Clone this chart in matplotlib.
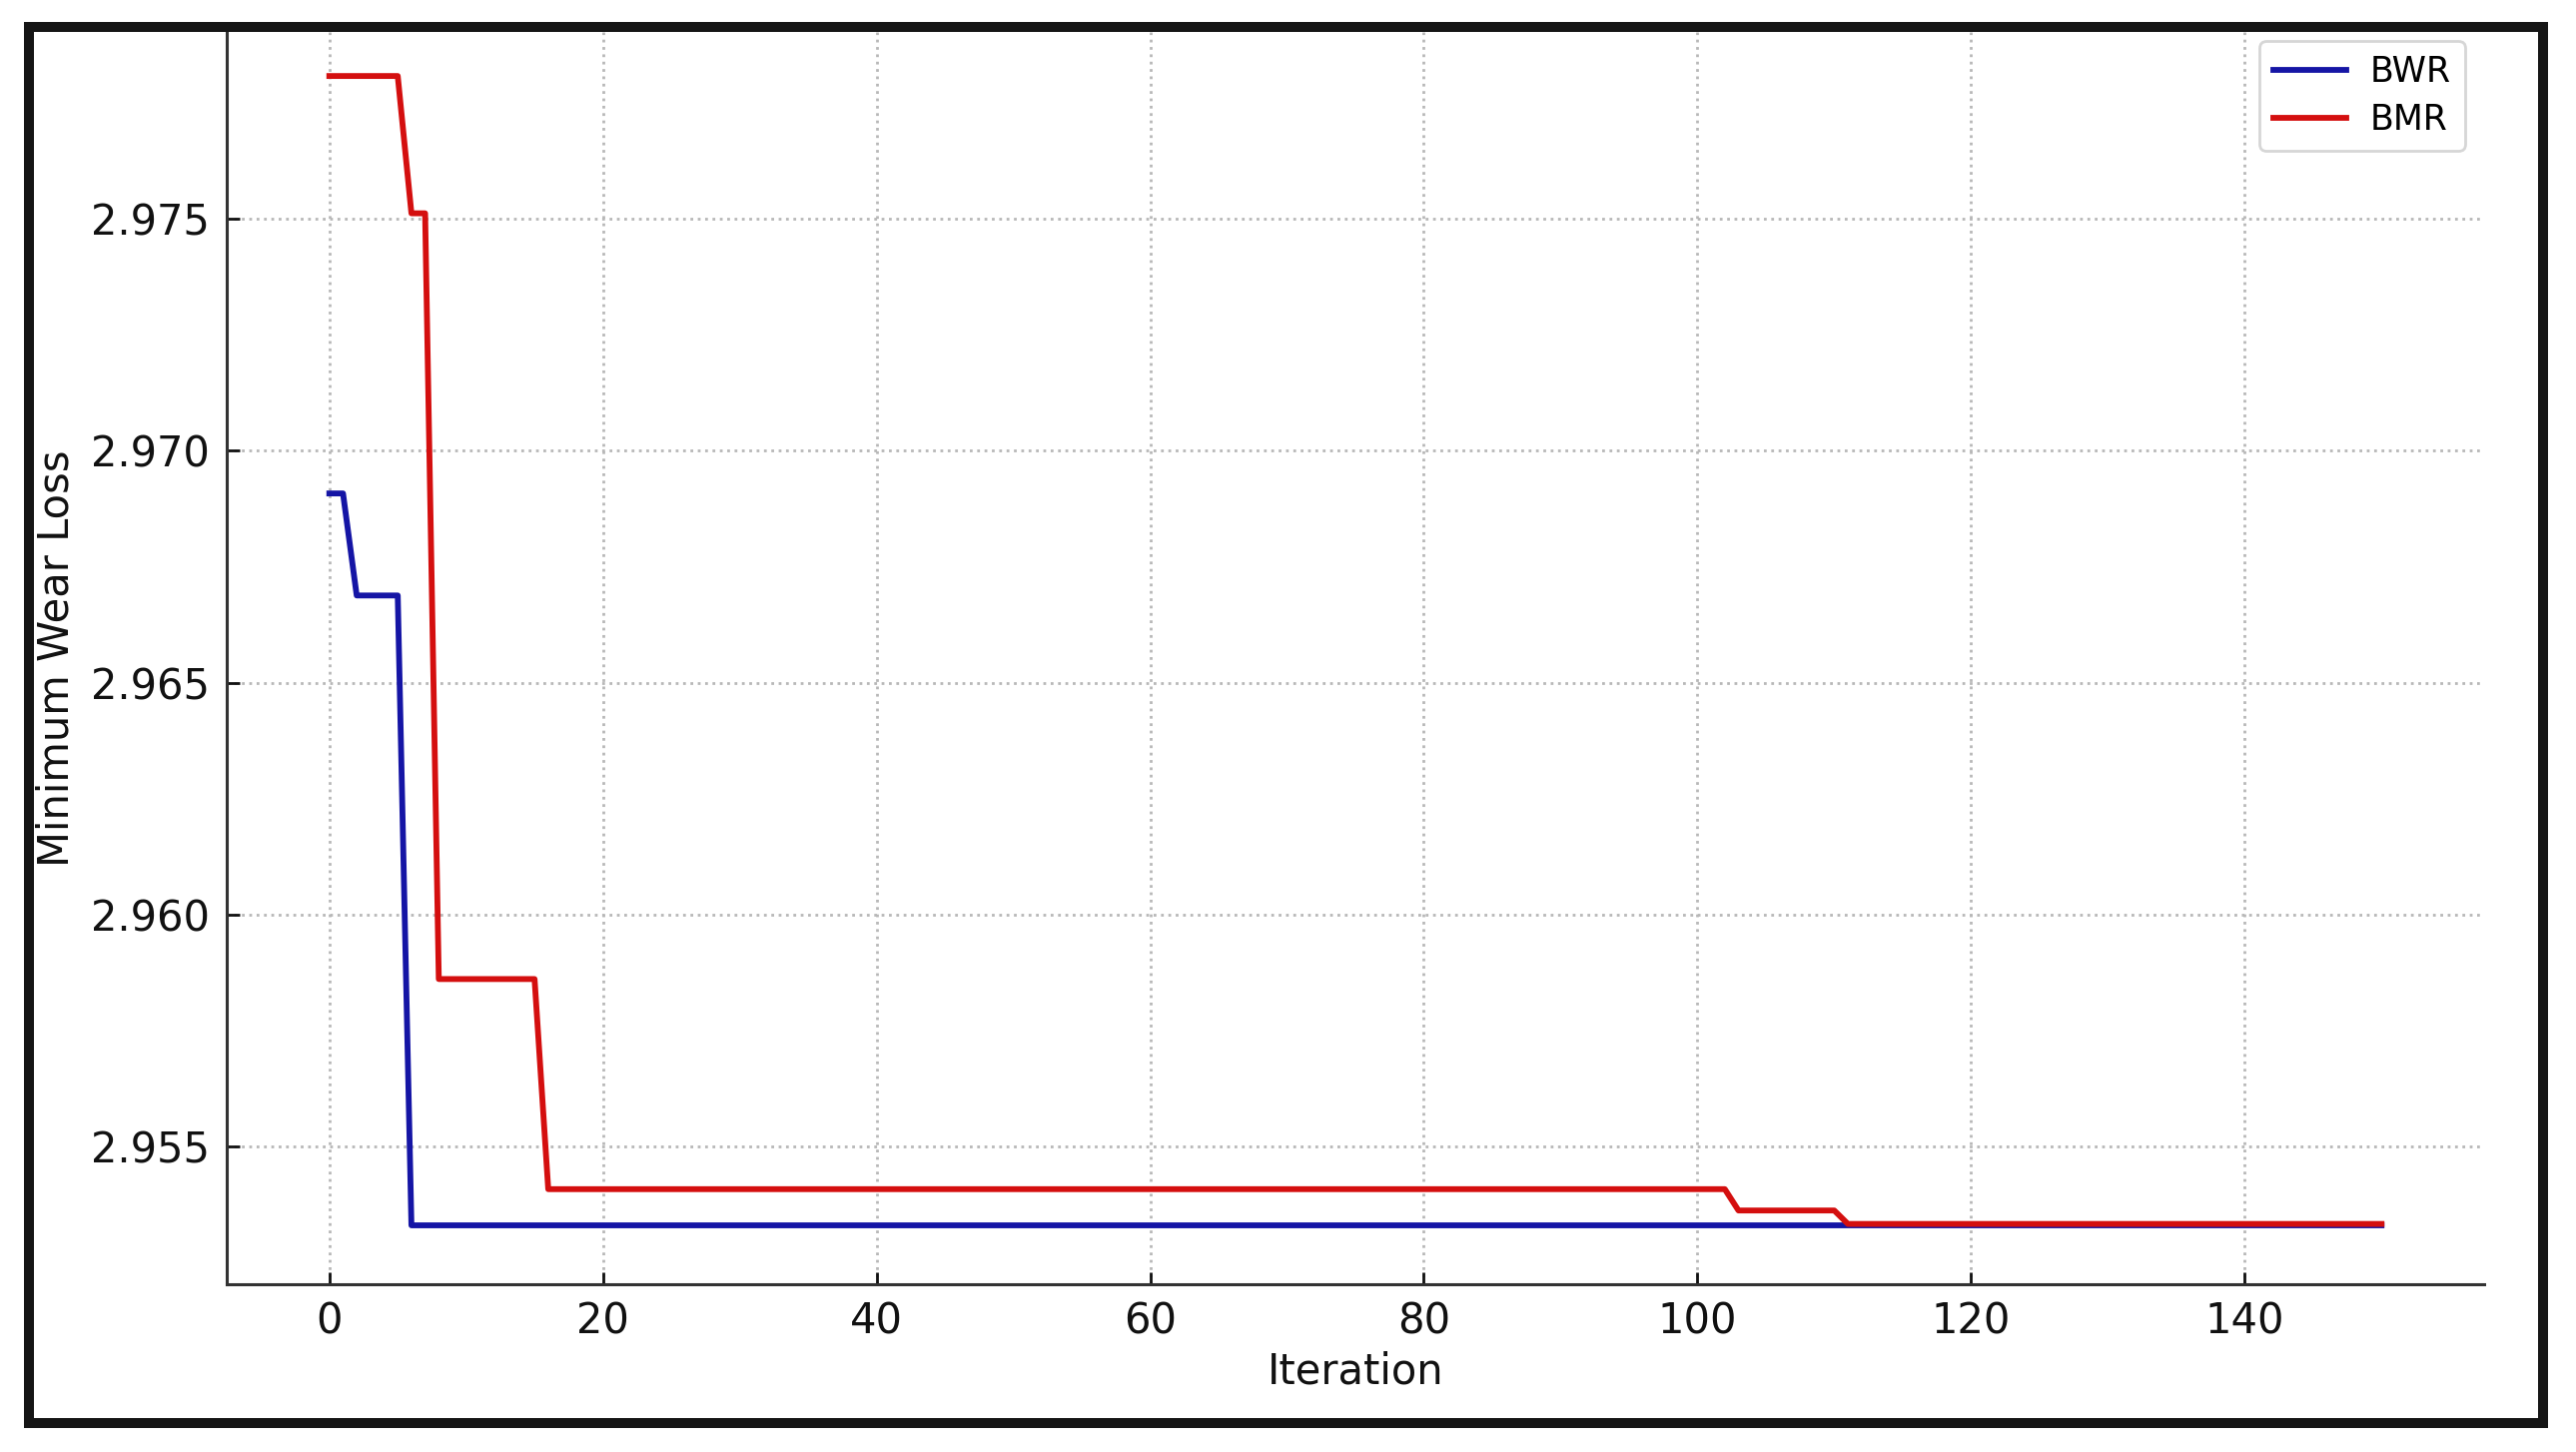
import matplotlib
matplotlib.use("Agg")
import matplotlib.pyplot as plt
from matplotlib.patches import Rectangle

# Data (breakpoints of the convergence curves)
bwr_iter = [0, 1, 2, 5, 6, 150]
bwr_loss = [2.96908, 2.96908, 2.96688, 2.96688, 2.95330, 2.95330]

bmr_iter = [0, 5, 6, 7, 8, 15, 16, 102, 103, 110, 111, 150]
bmr_loss = [2.97808, 2.97808, 2.97512, 2.97512, 2.95861, 2.95861,
            2.95408, 2.95408, 2.95362, 2.95362, 2.95333, 2.95333]

x_ticks = [0, 20, 40, 60, 80, 100, 120, 140]
y_ticks = [2.955, 2.960, 2.965, 2.970, 2.975]

W, H, DPI = 2579, 1454, 200
fig = plt.figure(figsize=(W / DPI, H / DPI), dpi=DPI)
fig.patch.set_facecolor("white")

ax_left, ax_right = 227 / W, 2487 / W
ax_bottom, ax_top = 1 - 1286 / H, 1 - 32 / H
ax = fig.add_axes([ax_left, ax_bottom, ax_right - ax_left, ax_top - ax_bottom])

ax.plot(bwr_iter, bwr_loss, color="#1515a5", lw=2.1, label="BWR", zorder=3)
ax.plot(bmr_iter, bmr_loss, color="#d40f0f", lw=2.1, label="BMR", zorder=4)

ax.set_xlim(-7.5, 157.5)
ax.set_ylim(2.95203, 2.97903)
ax.set_xticks(x_ticks)
ax.set_yticks(y_ticks)
ax.set_yticklabels([f"{v:.3f}" for v in y_ticks])

ax.grid(True, linestyle=":", color="#b8b8b8", lw=1.0)
ax.set_axisbelow(True)

for s in ["top", "right"]:
    ax.spines[s].set_visible(False)
for s in ["left", "bottom"]:
    ax.spines[s].set_color("#333333")
    ax.spines[s].set_linewidth(1.1)

ax.tick_params(direction="in", length=4.5, width=1.0, colors="#111111",
               labelsize=15, pad=6)
ax.set_xlabel("Iteration", fontsize=15, labelpad=3, color="#111111")
ax.set_ylabel("Minimum Wear Loss", fontsize=15, labelpad=5, color="#111111")

leg = ax.legend(loc="upper right", bbox_to_anchor=(0.9916, 0.9928),
                borderaxespad=0, fontsize=12.5, handlelength=2.1,
                handletextpad=0.7, labelspacing=0.4, frameon=True,
                fancybox=True, edgecolor="#cccccc")

# Outer black frame around the figure
frame = Rectangle((29 / W, 1 - 1425 / H), (2546 - 29) / W, (1425 - 27) / H,
                  transform=fig.transFigure, fill=False,
                  edgecolor="#151515", lw=3.6, zorder=10)
fig.patches.append(frame)

fig.savefig("out.png", dpi=DPI, facecolor="white")
